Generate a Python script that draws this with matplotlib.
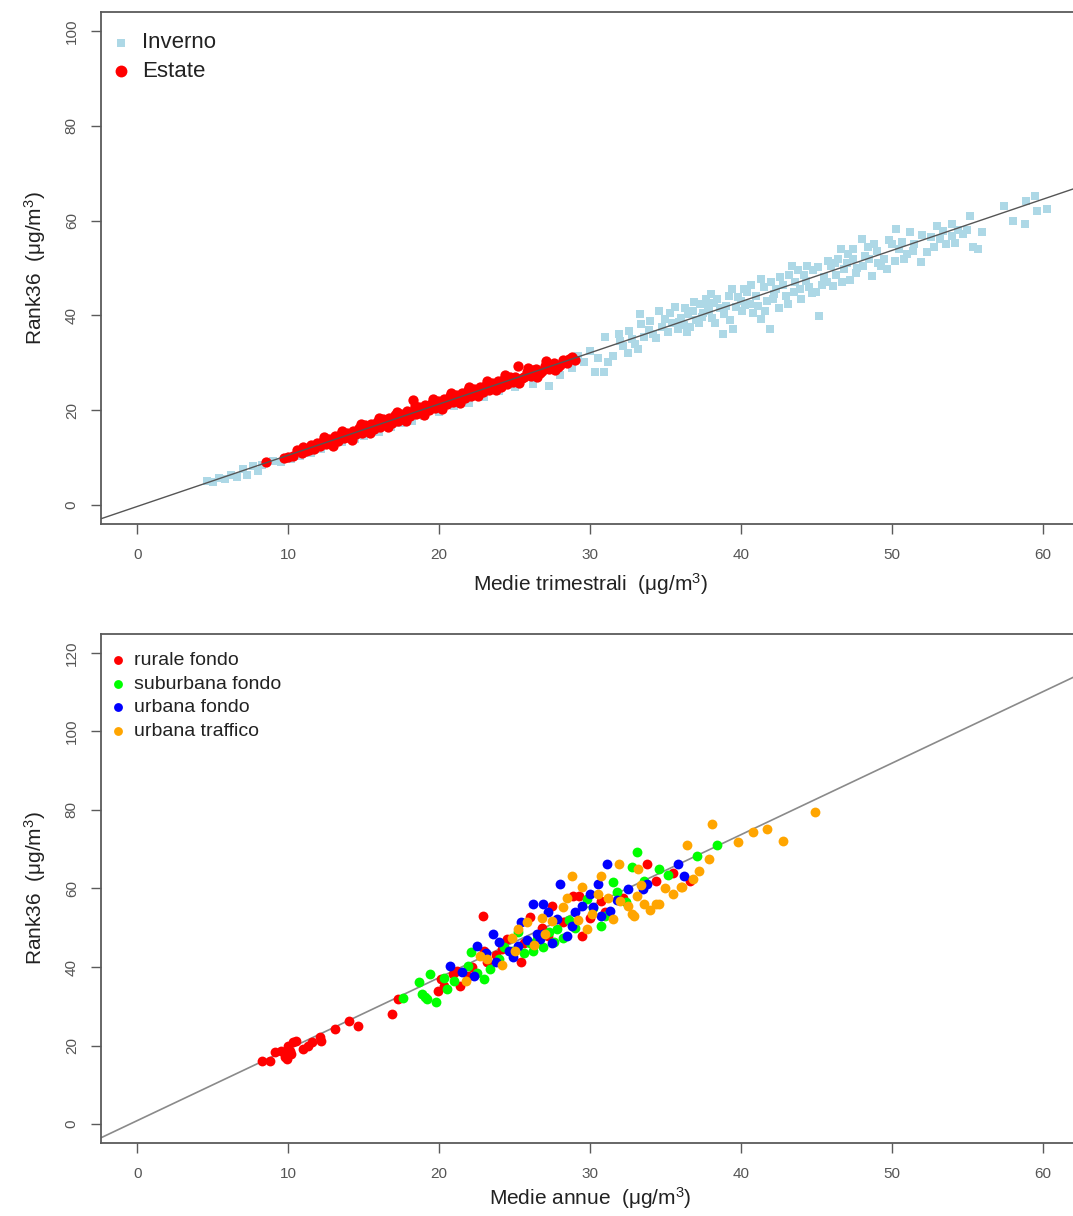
import matplotlib
matplotlib.use("Agg")
import matplotlib.pyplot as plt

plt.rcParams['font.family'] = ['Liberation Sans', 'DejaVu Sans']
plt.rcParams['mathtext.fontset'] = 'custom'
plt.rcParams['mathtext.rm'] = 'Liberation Sans'
plt.rcParams['mathtext.default'] = 'regular'

# ---------------- top panel data ----------------
estate_x = [8.5, 9.7, 10.0, 10.3, 10.6, 10.9, 11.0, 11.2, 11.5, 11.7, 11.9, 12.1, 12.3, 12.5, 12.7, 12.9,
            13.1, 13.3, 13.5, 13.7, 13.9, 14.1, 14.3, 14.5, 14.7, 14.9, 15.1, 15.3, 15.5, 15.7, 15.9,
            16.1, 16.3, 16.5, 16.7, 16.9, 17.1, 17.3, 17.5, 17.7, 17.9, 18.1, 18.3, 18.5, 18.7, 18.9,
            19.1, 19.3, 19.5, 19.7, 19.9, 20.1, 20.3, 20.5, 20.7, 20.9, 21.1, 21.3, 21.5, 21.7, 21.9,
            22.1, 22.3, 22.5, 22.7, 22.9, 23.1, 23.3, 23.5, 23.7, 23.9, 24.1, 24.3, 24.5, 24.7, 24.9,
            25.2, 25.5, 25.8, 26.1, 26.4, 26.7, 27.0, 27.3, 27.6, 27.9, 28.2, 28.5, 28.8, 29.0,
            11.4, 12.0, 12.6, 13.2, 13.8, 14.4, 15.0, 15.6, 16.2, 16.8, 17.4, 18.0, 18.6, 19.2, 19.8,
            20.4, 21.0, 21.6, 22.2, 22.8, 23.4, 24.0, 24.6, 25.0, 25.6, 26.2, 26.8, 27.4, 28.0, 28.6,
            12.4, 13.0, 13.6, 14.2, 14.8, 15.4, 16.0, 16.6, 17.2, 17.8, 18.4, 19.0, 19.6, 20.2, 20.8,
            21.4, 22.0, 22.6, 23.2, 23.8, 24.4, 25.3, 25.9, 26.5, 27.1, 27.7]
estate_y = [9.0, 10.0, 10.2, 10.4, 11.6, 11.0, 12.2, 11.3, 12.6, 11.9, 13.1, 12.4, 13.5, 12.8, 14.0, 13.2,
            14.6, 13.6, 14.9, 14.1, 15.3, 14.4, 15.7, 14.9, 16.3, 15.3, 16.8, 15.7, 17.1, 16.1, 17.6,
            16.5, 18.1, 17.0, 18.4, 17.4, 18.9, 17.8, 19.3, 18.3, 19.9, 18.7, 22.2, 19.2, 20.6, 19.6,
            21.0, 20.0, 21.5, 20.4, 22.0, 20.8, 22.4, 21.3, 22.9, 21.7, 23.3, 22.1, 23.7, 22.6, 24.2,
            23.0, 24.5, 23.4, 25.0, 23.8, 25.3, 24.3, 25.8, 24.6, 26.1, 25.0, 26.6, 25.6, 27.0, 26.0,
            29.3, 26.7, 28.1, 27.3, 28.6, 27.9, 29.3, 28.6, 30.0, 29.2, 30.5, 29.9, 31.2, 30.6,
            11.7, 12.9, 13.0, 14.2, 14.3, 15.5, 15.6, 16.9, 17.0, 18.2, 18.2, 19.6, 19.5, 20.8, 20.9,
            22.1, 22.0, 23.4, 23.3, 24.7, 24.6, 26.0, 25.9, 27.1, 27.0, 28.4, 28.2, 29.6, 29.5, 30.9,
            14.4, 12.5, 15.6, 13.8, 17.0, 15.2, 18.3, 16.5, 19.6, 17.8, 20.9, 19.0, 22.3, 20.3, 23.6,
            21.6, 24.9, 22.9, 26.2, 24.2, 27.5, 25.8, 29.0, 27.0, 30.3, 28.4]

inverno_x = [4.6, 5.0, 5.4, 5.8, 6.2, 6.6, 7.0, 7.3, 7.7, 8.0, 8.3, 9.0, 9.5, 10.2, 10.8, 11.5, 12.2,
             12.8, 13.6, 14.4, 15.0, 16.0, 16.8, 17.5, 18.2, 19.0, 20.0, 21.0, 22.0, 23.0, 24.0, 25.0,
             26.2, 27.3, 28.0, 28.8, 29.2, 29.6,
             30.3, 30.9, 31.2, 30.5, 30.0, 31.0, 31.5, 31.9, 32.2, 32.5, 32.8, 33.0, 33.3, 33.4, 33.6,
             33.9, 34.2, 34.6, 34.8, 35.0, 35.2, 35.4, 35.6, 35.8, 36.0, 36.2, 36.5, 36.8, 37.0, 37.3,
             37.5, 37.7, 37.9, 38.1, 38.4, 38.6, 38.8, 39.0, 39.2, 39.5, 39.7, 40.0, 40.2, 40.4, 40.6,
             40.8, 41.0, 41.3, 41.5, 41.3, 41.7, 41.9, 42.1, 42.3, 42.5, 42.8, 43.0, 43.4, 43.6, 43.9,
             44.2, 44.5, 44.8, 45.2, 45.5, 45.7, 46.0, 46.1, 46.4, 46.6, 46.8, 47.0, 47.4, 47.4, 47.7,
             48.0, 48.2, 48.5, 48.7, 49.0, 49.3, 49.7, 50.0, 50.3, 50.5, 50.8, 51.2, 51.5, 51.9, 52.3,
             52.6, 53.0, 53.2, 53.6, 54.0, 54.0, 54.4, 54.7, 55.2, 55.4, 55.7, 57.4, 58.0, 58.8, 58.9,
             59.5, 59.6, 60.3,
             36.3, 37.2, 38.0, 39.4, 40.1, 42.0, 43.2, 44.0, 45.0, 45.8, 47.2, 48.8, 49.5, 44.4, 46.3,
             51.0, 38.3, 36.6,
             32.0, 32.6, 33.2, 34.0, 34.4, 35.3, 35.9, 36.4, 36.9, 37.4, 37.8, 38.2, 38.9, 39.3, 39.8,
             40.3, 40.7, 41.1, 41.6, 42.2, 42.6, 43.1, 43.5, 43.8, 44.3, 44.7, 45.1, 45.4, 46.2, 46.7,
             47.1, 47.6, 48.1, 48.4, 49.1, 49.8, 50.2, 50.7, 51.4, 52.0, 52.8, 53.4, 54.2, 55.0, 56.0]
inverno_y = [5.0, 4.8, 5.6, 5.4, 6.3, 5.9, 7.6, 6.4, 8.3, 7.2, 8.4, 9.3, 9.0, 9.8, 10.4, 11.0, 11.8,
             12.6, 13.2, 14.0, 14.6, 15.5, 16.4, 17.2, 17.8, 18.8, 19.6, 20.8, 21.6, 22.8, 24.1, 25.0,
             25.5, 25.1, 27.5, 29.0, 31.5, 30.2,
             28.0, 28.0, 30.2, 31.0, 32.5, 35.4, 31.5, 36.1, 33.5, 32.0, 35.0, 34.0, 40.3, 38.2, 35.5,
             37.0, 36.0, 40.9, 37.5, 39.2, 36.5, 38.5, 41.8, 37.1, 39.5, 38.0, 40.2, 40.9, 39.0, 42.4,
             40.5, 43.5, 41.0, 39.5, 43.5, 41.5, 36.1, 42.0, 44.0, 37.1, 41.8, 43.0, 45.5, 44.9, 42.5,
             40.5, 44.0, 39.2, 46.0, 47.7, 43.0, 37.1, 43.5, 45.5, 41.5, 46.5, 44.0, 50.4, 47.0, 45.6,
             48.5, 46.0, 49.5, 39.9, 48.0, 47.0, 50.5, 46.2, 52.0, 54.0, 49.8, 51.0, 51.9, 54.0, 50.0,
             56.1, 52.5, 51.9, 48.3, 53.5, 50.5, 49.8, 55.0, 58.2, 54.0, 52.0, 57.6, 55.0, 51.3, 53.4,
             56.5, 58.9, 56.1, 55.0, 56.8, 59.3, 58.0, 57.2, 61.0, 54.4, 54.0, 63.1, 59.9, 59.3, 64.1,
             65.2, 62.0, 62.4,
             41.5, 38.5, 44.5, 45.5, 41.0, 47.0, 48.5, 43.5, 45.0, 51.5, 47.5, 55.0, 52.0, 50.5, 48.5,
             53.0, 38.3, 37.5,
             34.5, 36.8, 33.0, 38.8, 35.2, 40.5, 38.6, 36.5, 42.8, 39.6, 41.8, 42.6, 40.2, 39.0, 43.8,
             42.2, 46.5, 42.0, 41.0, 44.5, 48.0, 42.5, 45.0, 49.5, 47.2, 44.8, 50.2, 46.5, 51.0, 47.0,
             53.0, 49.0, 50.5, 54.5, 51.0, 56.0, 51.5, 55.5, 53.5, 57.0, 54.5, 57.8, 55.2, 58.0, 57.5]

top_fit = (-0.3, 1.08)   # intercept, slope

# ---------------- bottom panel data ----------------
rurale_x = [8.3, 8.8, 9.1, 9.5, 9.8, 10.0, 10.1, 10.3, 10.5, 9.9, 10.2, 11.0, 11.3, 11.6, 12.1, 12.2,
            13.1, 14.0, 14.6, 16.9, 17.3, 19.9, 20.3, 21.4, 20.1, 20.9, 21.9, 22.9, 23.0, 23.2, 24.5,
            25.4, 26.0, 27.2, 28.9, 29.3, 29.5, 30.7, 33.8, 34.4, 36.6, 27.5, 28.2, 31.0, 24.2, 25.6,
            26.8, 22.2, 30.0, 32.2, 21.2, 23.8, 35.5]
rurale_y = [16.0, 16.0, 18.3, 18.6, 17.0, 19.8, 18.6, 20.9, 21.1, 16.6, 17.8, 19.1, 19.8, 20.9, 22.1, 21.1,
            24.2, 26.2, 24.9, 28.0, 31.8, 33.8, 35.1, 35.1, 36.9, 38.2, 37.7, 52.9, 44.0, 41.2, 47.1,
            41.2, 52.7, 47.8, 58.0, 58.0, 47.8, 56.7, 66.2, 61.8, 61.8, 55.5, 51.5, 54.0, 44.5, 46.0,
            50.0, 40.0, 52.5, 57.5, 39.0, 43.0, 64.0]

suburbana_x = [17.6, 18.7, 18.9, 19.2, 19.1, 19.4, 19.8, 20.5, 21.0, 21.9, 22.1, 22.5, 23.4, 24.0, 24.3,
               24.8, 25.2, 25.6, 26.0, 26.5, 26.9, 27.3, 27.8, 28.2, 28.6, 29.0, 29.8, 30.2, 30.7, 31.0,
               31.5, 31.8, 32.4, 32.8, 33.1, 33.6, 34.6, 35.2, 37.1, 38.4, 23.0, 20.3, 26.2, 27.6]
suburbana_y = [32.2, 36.1, 33.1, 31.8, 32.3, 38.2, 31.0, 34.5, 36.5, 40.2, 43.8, 38.5, 39.4, 42.0, 45.0,
               44.0, 48.9, 43.5, 46.0, 47.1, 45.0, 49.0, 49.6, 47.5, 52.0, 50.0, 57.3, 55.0, 50.4, 53.0,
               61.6, 59.0, 56.5, 65.4, 69.2, 62.0, 64.9, 63.5, 68.2, 71.2, 37.0, 37.2, 44.0, 46.5]

urbana_fondo_x = [20.7, 22.3, 22.5, 23.6, 23.8, 24.0, 24.6, 25.2, 25.4, 25.8, 26.2, 26.5, 26.7, 26.9,
                  26.9, 27.2, 27.5, 27.8, 28.0, 28.5, 29.0, 29.5, 30.2, 30.5, 30.7, 31.1, 31.3, 31.8,
                  32.5, 33.5, 33.8, 35.8, 36.2, 24.9, 28.8, 30.0, 23.1, 21.5]
urbana_fondo_y = [40.2, 37.7, 45.3, 48.3, 41.2, 46.3, 44.0, 45.3, 51.4, 47.0, 56.0, 48.3, 47.1, 56.0,
                  48.3, 53.9, 46.0, 52.2, 61.1, 47.8, 54.0, 55.5, 55.2, 61.1, 52.9, 66.2, 54.2, 57.0,
                  59.8, 59.8, 61.1, 66.2, 63.1, 42.5, 50.5, 58.5, 43.5, 38.8]

traffico_x = [21.8, 22.7, 23.2, 24.2, 24.8, 25.2, 25.8, 26.3, 26.8, 27.5, 28.2, 28.8, 29.2, 29.8, 30.5,
              30.7, 31.2, 31.5, 31.9, 32.0, 32.5, 32.8, 32.9, 33.1, 33.6, 34.4, 34.6, 35.0, 35.5, 36.0,
              36.1, 36.4, 36.8, 37.2, 37.9, 38.1, 39.8, 40.8, 41.7, 42.8, 44.9, 27.0, 28.5, 30.1, 33.4,
              34.0, 25.0, 29.5, 33.2]
traffico_y = [36.5, 42.7, 42.0, 40.5, 47.5, 49.6, 51.4, 45.5, 52.5, 51.7, 55.2, 63.1, 52.0, 49.6, 58.5,
              63.1, 57.5, 52.2, 66.2, 56.7, 55.5, 53.4, 52.9, 58.0, 56.0, 56.0, 56.0, 60.0, 58.5, 60.3,
              60.3, 71.2, 62.3, 64.5, 67.4, 76.3, 71.8, 74.3, 75.1, 72.0, 79.4, 48.5, 57.5, 53.5, 61.0,
              54.5, 44.0, 60.5, 65.0]

bottom_fit = (0.9, 1.82)  # intercept, slope

W, H = 1073, 1216
fig = plt.figure(figsize=(W / 100, H / 100), dpi=100)
ax1 = fig.add_axes([101 / W, 1 - 524 / H, 978 / W, 512 / H])
ax2 = fig.add_axes([101 / W, 1 - 1143 / H, 978 / W, 509 / H])

spine_c = '#5a5a5a'
tick_lab_c = '#555555'


def style(ax, ylim, yticks):
    ax.set_xlim(-2.4, 62.4)
    ax.set_ylim(*ylim)
    ax.set_xticks([0, 10, 20, 30, 40, 50, 60])
    ax.set_yticks(yticks)
    for s in ax.spines.values():
        s.set_color(spine_c)
        s.set_linewidth(1.3)
    ax.tick_params(direction='out', length=7, width=1.0, color=spine_c,
                   labelcolor=tick_lab_c, labelsize=11)
    ax.tick_params(axis='x', pad=10)
    ax.tick_params(axis='y', pad=9)
    plt.setp(ax.get_yticklabels(), rotation=90, va='center')


# top panel
ax1.scatter(inverno_x, inverno_y, s=28, marker='s', color='#add8e6', linewidths=0, zorder=2,
            label='Inverno')
ax1.scatter(estate_x, estate_y, s=55, marker='o', color='#ff0000', linewidths=0, zorder=3,
            label='Estate')
ax1.axline((0, top_fit[0]), slope=top_fit[1], color='#555555', lw=1.0, zorder=4)
style(ax1, (-4, 104), [0, 20, 40, 60, 80, 100])
ax1.set_xlabel('Medie trimestrali  (μg/m$^3$)', fontsize=15, color='#222222', labelpad=6.5)
ax1.set_ylabel('Rank36  (μg/m$^3$)', fontsize=15, color='#222222', labelpad=12)
leg1 = ax1.legend(loc='upper left', bbox_to_anchor=(0.0125, 0.96), borderaxespad=0, borderpad=0,
                  frameon=False, fontsize=16, handlelength=0.7, handletextpad=0.6,
                  labelspacing=0.32, scatterpoints=1, markerscale=1.15)
for t in leg1.get_texts():
    t.set_color('#222222')

# bottom panel
ax2.scatter(rurale_x, rurale_y, s=50, color='#ff0000', linewidths=0, zorder=3, label='rurale fondo')
ax2.scatter(suburbana_x, suburbana_y, s=50, color='#00ff00', linewidths=0, zorder=3,
            label='suburbana fondo')
ax2.scatter(urbana_fondo_x, urbana_fondo_y, s=50, color='#0000ff', linewidths=0, zorder=3,
            label='urbana fondo')
ax2.scatter(traffico_x, traffico_y, s=50, color='#ffa500', linewidths=0, zorder=3,
            label='urbana traffico')
ax2.axline((0, bottom_fit[0]), slope=bottom_fit[1], color='#8a8a8a', lw=1.2, zorder=2)
style(ax2, (-4.8, 124.8), [0, 20, 40, 60, 80, 100, 120])
ax2.set_xlabel('Medie annue  (μg/m$^3$)', fontsize=15, color='#222222', labelpad=3.5)
ax2.set_ylabel('Rank36  (μg/m$^3$)', fontsize=15, color='#222222', labelpad=12)
leg2 = ax2.legend(loc='upper left', bbox_to_anchor=(0.011, 0.965), borderaxespad=0, borderpad=0,
                  frameon=False, fontsize=14, handlelength=0.6, handletextpad=0.55,
                  labelspacing=0.3, scatterpoints=1, markerscale=0.9)
for t in leg2.get_texts():
    t.set_color('#222222')

fig.savefig('out.png', dpi=100)
